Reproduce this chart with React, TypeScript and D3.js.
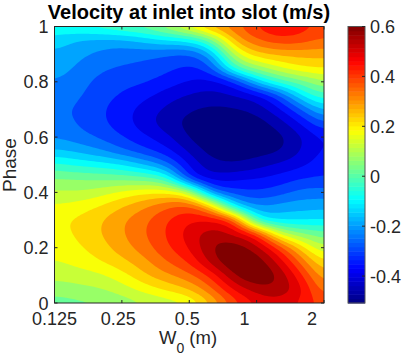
import React from 'react';
import * as d3 from 'd3';

// W0 sample positions, a third of an octave apart
const w0Samples = [0.125, 0.1575, 0.1984, 0.25, 0.315, 0.3969, 0.5, 0.63, 0.7937, 1, 1.26, 1.5874, 2];
const phaseSamples = d3.range(0, 21).map((i) => i / 20);

// velocity, one row per phase, bottom row first
const velocity = [
  [0.03, 0.04, 0.05, 0.075, 0.1, 0.125, 0.155, 0.26, 0.38, 0.46, 0.48, 0.44, 0.37],
  [0.07, 0.085, 0.095, 0.125, 0.17, 0.21, 0.25, 0.34, 0.46, 0.525, 0.535, 0.46, 0.31],
  [0.115, 0.125, 0.14, 0.18, 0.24, 0.29, 0.335, 0.42, 0.55, 0.6, 0.54, 0.41, 0.255],
  [0.145, 0.165, 0.195, 0.235, 0.285, 0.35, 0.405, 0.52, 0.6, 0.585, 0.48, 0.33, 0.19],
  [0.165, 0.19, 0.225, 0.275, 0.325, 0.39, 0.45, 0.55, 0.58, 0.52, 0.38, 0.22, 0.1],
  [0.18, 0.205, 0.245, 0.293, 0.345, 0.403, 0.47, 0.525, 0.49, 0.39, 0.14, 0.06, 0.015],
  [0.185, 0.205, 0.24, 0.29, 0.335, 0.395, 0.44, 0.44, 0.36, -0.04, -0.1, -0.1, -0.095],
  [0.155, 0.17, 0.2, 0.245, 0.29, 0.335, 0.36, 0.22, -0.09, -0.2, -0.18, -0.17, -0.165],
  [0.11, 0.105, 0.125, 0.16, 0.185, 0.19, 0.12, -0.2, -0.27, -0.29, -0.27, -0.23, -0.23],
  [0.05, 0.045, 0.04, 0.035, 0.02, -0.03, -0.28, -0.37, -0.36, -0.35, -0.33, -0.3, -0.29],
  [-0.035, -0.06, -0.075, -0.1, -0.15, -0.22, -0.36, -0.43, -0.44, -0.42, -0.39, -0.36, -0.32],
  [-0.14, -0.16, -0.19, -0.235, -0.28, -0.33, -0.41, -0.47, -0.485, -0.47, -0.455, -0.395, -0.335],
  [-0.2, -0.225, -0.255, -0.295, -0.34, -0.385, -0.455, -0.49, -0.495, -0.485, -0.465, -0.4, -0.33],
  [-0.23, -0.25, -0.285, -0.325, -0.375, -0.425, -0.465, -0.485, -0.49, -0.475, -0.425, -0.345, -0.25],
  [-0.245, -0.25, -0.29, -0.325, -0.37, -0.41, -0.445, -0.46, -0.455, -0.43, -0.36, -0.25, -0.13],
  [-0.235, -0.24, -0.28, -0.305, -0.335, -0.375, -0.405, -0.42, -0.4, -0.36, -0.26, -0.1, -0.01],
  [-0.2, -0.225, -0.265, -0.285, -0.295, -0.325, -0.355, -0.365, -0.3, -0.14, -0.03, 0.03, 0.1],
  [-0.18, -0.205, -0.24, -0.255, -0.265, -0.285, -0.31, -0.265, -0.03, 0.07, 0.14, 0.19, 0.2],
  [-0.16, -0.185, -0.21, -0.225, -0.23, -0.24, -0.25, -0.16, 0.12, 0.23, 0.26, 0.27, 0.27],
  [-0.115, -0.15, -0.16, -0.16, -0.13, -0.1, -0.08, 0.03, 0.26, 0.34, 0.38, 0.37, 0.335],
  [-0.07, -0.05, -0.03, 0, 0.02, 0.08, 0.17, 0.27, 0.33, 0.4, 0.45, 0.42, 0.38],
];

const contourLevels = d3.range(-0.5, 0.65, 0.05).map((v) => +v.toFixed(2));
const xTicks = [0.125, 0.25, 0.5, 1, 2];
const xTickLabels = ['0.125', '0.25', '0.5', '1', '2'];
const xLabelShift = [0, -3.5, -2, -12, -12]; // the labels sit left of their ticks in the original
const yTicks = [0, 0.2, 0.4, 0.6, 0.8, 1];
const barTicks = [-0.4, -0.2, 0, 0.2, 0.4, 0.6];

const W = 415;
const H = 357;
const plot = { left: 54.5, right: 324, top: 26.5, bottom: 303 };
const bar = { left: 348, right: 365 };
const textColor = '#262626';
const font = '"Liberation Sans", Arial, sans-serif';

const vMin = -0.508;
const vMax = 0.6;

const jet = d3
  .scaleLinear<string>()
  .domain([0, 0.125, 0.375, 0.625, 0.875, 1])
  .range(['#000080', '#0000ff', '#00ffff', '#ffff00', '#ff0000', '#800000'])
  .interpolate(d3.interpolateRgb);
const colorOf = (v: number) => jet((v - vMin) / (vMax - vMin));
// each filled band takes the colour of its lower level, 21 steps from bottom to top of jet
const bandColor = (level: number) => jet((level + 0.5) / 1.05);

const x = d3.scaleLog().base(2).domain([0.125, 2]).range([plot.left, plot.right]);
const y = d3.scaleLinear().domain([0, 1]).range([plot.bottom, plot.top]);
const barY = d3.scaleLinear().domain([vMin, vMax]).range([plot.bottom, plot.top]);

// catmull-rom through the read values, only so the contour lines come out round
const cr = (a: number, b: number, c: number, d: number, t: number) =>
  0.5 * (2 * b + (c - a) * t + (2 * a - 5 * b + 4 * c - d) * t * t + (3 * b - a - 3 * c + d) * t * t * t);

const SUB = 8;
const ny = velocity.length;
const nx = velocity[0].length;
const fineW = (nx - 1) * SUB + 1;
const fineH = (ny - 1) * SUB + 1;

function refine() {
  const clampX = (i: number) => Math.max(0, Math.min(nx - 1, i));
  const clampY = (i: number) => Math.max(0, Math.min(ny - 1, i));
  const out = new Array(fineW * fineH);
  for (let j = 0; j < fineH; j++) {
    const jf = j / SUB;
    const j0 = Math.min(Math.floor(jf), ny - 2);
    const tj = jf - j0;
    for (let i = 0; i < fineW; i++) {
      const fi = i / SUB;
      const i0 = Math.min(Math.floor(fi), nx - 2);
      const ti = fi - i0;
      const col = [-1, 0, 1, 2].map((dj) => {
        const row = velocity[clampY(j0 + dj)];
        return cr(row[clampX(i0 - 1)], row[clampX(i0)], row[clampX(i0 + 1)], row[clampX(i0 + 2)], ti);
      });
      out[j * fineW + i] = cr(col[0], col[1], col[2], col[3], tj);
    }
  }
  d3.blur2({ data: out, width: fineW, height: fineH }, 3, 2);
  return out;
}

const contours = d3.contours().size([fineW, fineH]).smooth(true).thresholds(contourLevels)(refine());

const sampleX = d3.scaleLinear().domain(d3.range(nx).map((i) => i * SUB)).range(w0Samples.map((w) => x(w)));
const sampleY = d3.scaleLinear().domain(d3.range(ny).map((i) => i * SUB)).range(phaseSamples.map((p) => y(p)));
const path = d3.geoPath(
  d3.geoTransform({
    point(px, py) {
      this.stream.point(sampleX(px - 0.5), sampleY(py - 0.5));
    },
  })
);

const barSteps = d3.range(0, 64);

export default function App() {
  return (
    <svg width={W} height={H} style={{ position: 'absolute', left: 0, top: 0 }} fontFamily={font}>
      <defs>
        <clipPath id="plotClip">
          <rect x={plot.left} y={plot.top} width={plot.right - plot.left} height={plot.bottom - plot.top} />
        </clipPath>
      </defs>
      <rect width={W} height={H} fill="#fff" />

      <g clipPath="url(#plotClip)">
        <rect x={plot.left} y={plot.top} width={plot.right - plot.left} height={plot.bottom - plot.top} fill={bandColor(-0.5)} />
        {contours.map((c) => (
          <path key={c.value} d={path(c) || ''} fill={bandColor(c.value)} />
        ))}
      </g>

      <rect x={plot.left} y={plot.top} width={plot.right - plot.left} height={plot.bottom - plot.top} fill="none" stroke={textColor} strokeWidth={1} />
      {xTicks.map((t, i) => (
        <g key={t}>
          <line x1={x(t)} x2={x(t)} y1={plot.bottom} y2={plot.bottom - 3} stroke={textColor} />
          <line x1={x(t)} x2={x(t)} y1={plot.top} y2={plot.top + 3} stroke={textColor} />
          <text x={x(t) + xLabelShift[i]} y={plot.bottom + 21.5} textAnchor="middle" fontSize={18} fill={textColor}>
            {xTickLabels[i]}
          </text>
        </g>
      ))}
      {yTicks.map((t) => (
        <g key={t}>
          <line x1={plot.left} x2={plot.left + 3} y1={y(t)} y2={y(t)} stroke={textColor} />
          <line x1={plot.right} x2={plot.right - 3} y1={y(t)} y2={y(t)} stroke={textColor} />
          <text x={plot.left - 6} y={y(t) + 6.5} textAnchor="end" fontSize={18} fill={textColor}>
            {t}
          </text>
        </g>
      ))}

      <text x={189} y={19} textAnchor="middle" fontSize={20} fontWeight="bold" fill="#000">
        Velocity at inlet into slot (m/s)
      </text>
      <text x={188} y={343.5} textAnchor="middle" fontSize={18.5} fill={textColor}>
        W<tspan dy={9} fontSize={14}>0</tspan>
        <tspan dy={-9}> (m)</tspan>
      </text>
      <text transform="translate(16,165) rotate(-90)" textAnchor="middle" fontSize={19} fill={textColor}>
        Phase
      </text>

      {barSteps.map((i) => {
        const lo = vMin + ((vMax - vMin) * i) / 64;
        const hi = vMin + ((vMax - vMin) * (i + 1)) / 64;
        return (
          <rect
            key={i}
            x={bar.left}
            width={bar.right - bar.left}
            y={barY(hi)}
            height={barY(lo) - barY(hi) + 0.5}
            fill={colorOf((lo + hi) / 2)}
          />
        );
      })}
      <rect x={bar.left} y={plot.top} width={bar.right - bar.left} height={plot.bottom - plot.top} fill="none" stroke="#555" />
      {barTicks.map((t) => (
        <g key={t}>
          <line x1={bar.right} x2={bar.right - 3} y1={barY(t)} y2={barY(t)} stroke={textColor} />
          <text x={370} y={barY(t) + 6.5} fontSize={18} fill={textColor}>
            {t}
          </text>
        </g>
      ))}
    </svg>
  );
}
